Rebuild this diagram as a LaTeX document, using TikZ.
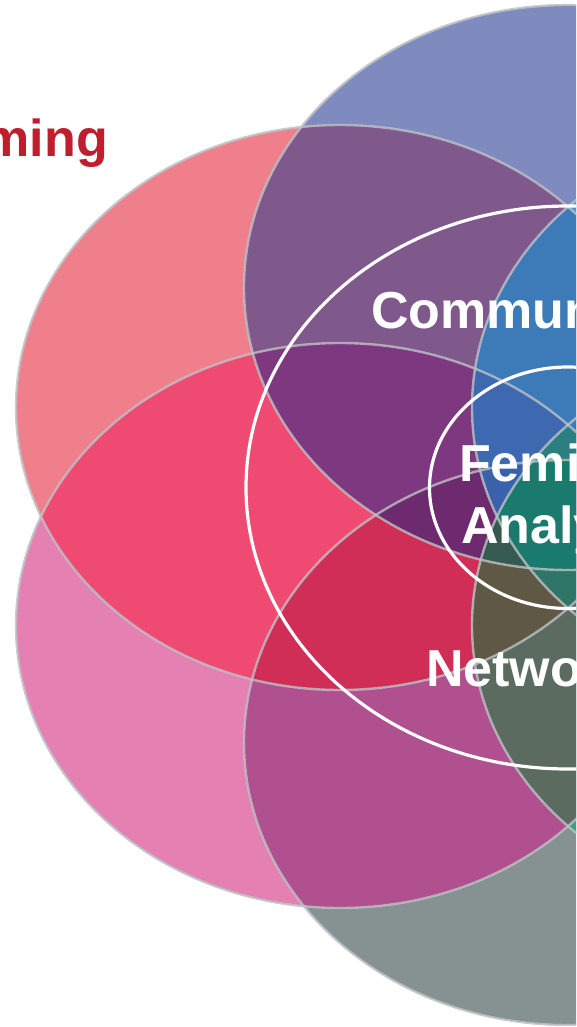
\documentclass[tikz,border=0pt]{standalone}
\usepackage{fontspec}
\setmainfont{Liberation Sans}
\definecolor{cA}{HTML}{F07F8C}
\definecolor{cB}{HTML}{E480B2}
\definecolor{cC}{HTML}{7F8ABE}
\definecolor{cD}{HTML}{869191}
\definecolor{cE}{HTML}{2FA0DA}
\definecolor{cF}{HTML}{38A87E}
\definecolor{cAB}{HTML}{EF4A72}
\definecolor{cAC}{HTML}{7F588C}
\definecolor{cBD}{HTML}{B0508F}
\definecolor{cCE}{HTML}{3A9AD0}
\definecolor{cDF}{HTML}{3BA080}
\definecolor{cABC}{HTML}{7E3880}
\definecolor{cABD}{HTML}{D02E57}
\definecolor{cACE}{HTML}{3C7AB8}
\definecolor{cBDF}{HTML}{5B6B60}
\definecolor{cABCD}{HTML}{6E2A6E}
\definecolor{cABCE}{HTML}{3E68B0}
\definecolor{cABDF}{HTML}{5F5845}
\definecolor{cABCDE}{HTML}{3A62AA}
\definecolor{cABCDF}{HTML}{365A50}
\definecolor{cABCEF}{HTML}{2C7F80}
\definecolor{cABDEF}{HTML}{2F7668}
\definecolor{cALL}{HTML}{1A7A6E}
\definecolor{outl}{HTML}{BEC2C6}
\definecolor{titlered}{HTML}{BE1E2D}
\def\eA{(340,-407.5) ellipse [x radius=324, y radius=282.5]}
\def\eB{(340,-625.5) ellipse [x radius=324, y radius=282.5]}
\def\eC{(568,-287.5) ellipse [x radius=324, y radius=282.5]}
\def\eD{(568,-742.5) ellipse [x radius=324, y radius=282.5]}
\def\eE{(796,-407.5) ellipse [x radius=324, y radius=282.5]}
\def\eF{(796,-625.5) ellipse [x radius=324, y radius=282.5]}
\newcommand\fillreg[2]{\begin{scope}#2\fill[#1] (0,0) rectangle (576,-1027);\end{scope}}
\tikzset{
  petline/.style={line width=2.4pt, draw=outl, draw opacity=0.8},
  wring/.style={draw=white, line width=3.2pt},
  lab/.style={text=white, font=\fontsize{52}{62}\selectfont\bfseries, inner sep=0pt, anchor=base west},
  titlelab/.style={text=titlered, font=\fontsize{52}{62}\selectfont\bfseries, inner sep=0pt, anchor=base east},
}
\begin{document}
\begin{tikzpicture}[x=1pt,y=1pt]
\useasboundingbox (0,0) rectangle (576,-1027);
\clip (0,0) rectangle (576,-1027);
% single petals
\fill[cA] \eA; \fill[cB] \eB; \fill[cC] \eC; \fill[cD] \eD; \fill[cE] \eE; \fill[cF] \eF;
% pairs
\fillreg{cAB}{\clip\eA;\clip\eB;}
\fillreg{cAC}{\clip\eA;\clip\eC;}
\fillreg{cBD}{\clip\eB;\clip\eD;}
\fillreg{cCE}{\clip\eC;\clip\eE;}
\fillreg{cDF}{\clip\eD;\clip\eF;}
% triples
\fillreg{cABC}{\clip\eA;\clip\eB;\clip\eC;}
\fillreg{cABD}{\clip\eA;\clip\eB;\clip\eD;}
\fillreg{cACE}{\clip\eA;\clip\eC;\clip\eE;}
\fillreg{cBDF}{\clip\eB;\clip\eD;\clip\eF;}
% quadruples
\fillreg{cABCD}{\clip\eA;\clip\eB;\clip\eC;\clip\eD;}
\fillreg{cABCE}{\clip\eA;\clip\eB;\clip\eC;\clip\eE;}
\fillreg{cABDF}{\clip\eA;\clip\eB;\clip\eD;\clip\eF;}
% quintuples
\fillreg{cABCDE}{\clip\eA;\clip\eB;\clip\eC;\clip\eD;\clip\eE;}
\fillreg{cABCDF}{\clip\eA;\clip\eB;\clip\eC;\clip\eD;\clip\eF;}
\fillreg{cABCEF}{\clip\eA;\clip\eB;\clip\eC;\clip\eE;\clip\eF;}
\fillreg{cABDEF}{\clip\eA;\clip\eB;\clip\eD;\clip\eE;\clip\eF;}
% all six
\fillreg{cALL}{\clip\eA;\clip\eB;\clip\eC;\clip\eD;\clip\eE;\clip\eF;}
% outlines
\draw[petline] \eA; \draw[petline] \eB; \draw[petline] \eC;
\draw[petline] \eD; \draw[petline] \eE; \draw[petline] \eF;
% white rings
\draw[wring] (568,-487.5) ellipse [x radius=322, y radius=281.5];
\draw[wring] (568,-487.75) ellipse [x radius=138.5, y radius=120.75];
% labels
\node[titlelab] (ttl) at (108,-157) {ming};
\node[lab] (comm) at (371,-328) {Commun};
\node[lab] (femi) at (459,-481) {Femi};
\node[lab] (analy) at (461,-543) {Analy};
\node[lab] (netw) at (426,-686) {Netwo};
\end{tikzpicture}
\end{document}
